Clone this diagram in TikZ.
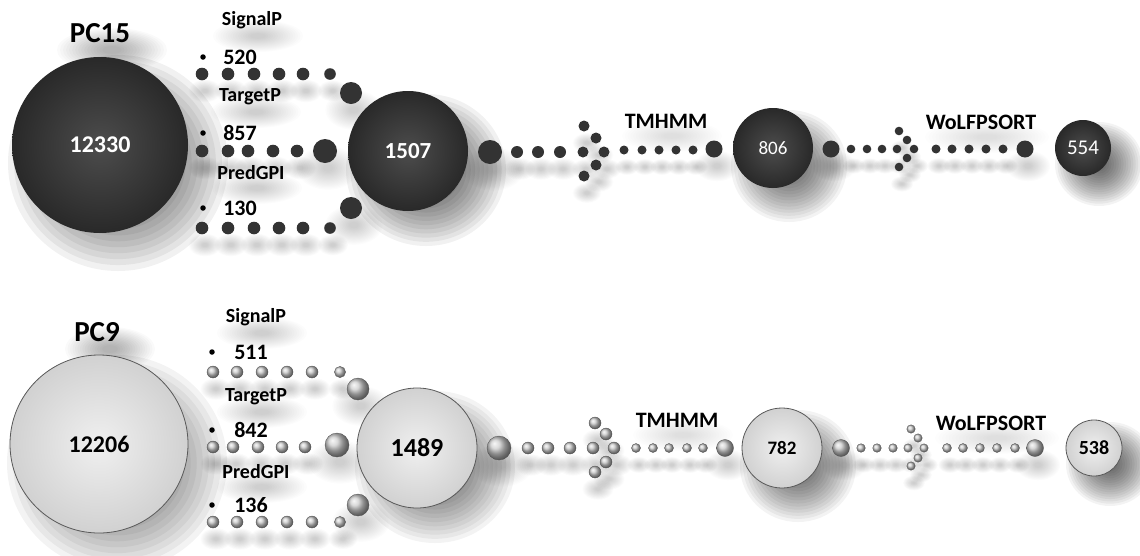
\documentclass[tikz,border=0pt]{standalone}
\usepackage{fontspec}
\setmainfont{Carlito}
\pgfdeclarelayer{back}
\pgfdeclarelayer{shadowlayer}
\pgfsetlayers{back,shadowlayer,main}
\tikzset{
  dkbig/.style={circle, inner sep=0pt, inner color=black!70, outer color=black!84, text=white},
  ltbig/.style={circle, inner sep=0pt, inner color=gray!12, outer color=gray!36, draw=gray!70!black, line width=0.8pt, text=black},
  lbl/.style={inner sep=0pt, font=\bfseries\fontsize{20}{24}\selectfont},
  numlbl/.style={inner sep=0pt, font=\bfseries\fontsize{22}{26}\selectfont},
  toollbl/.style={inner sep=0pt, font=\bfseries\fontsize{22}{26}\selectfont},
  pclbl/.style={inner sep=0pt, font=\bfseries\fontsize{29}{34}\selectfont},
  bulletdot/.style={circle, fill=black, inner sep=0pt, minimum size=5.5pt},
  dkdot/.style={fill=black!80},
  ltdot/.style={ball color=gray!40, draw=gray!60!black, line width=0.3pt},
}
% soft shadow built from stacked translucent ellipses: cx, cy, rx, ry, opacity
\newcommand\sh[5]{\begin{pgfonlayer}{shadowlayer}%
  \pgfmathsetmacro\shop{1-(1-#5)^(0.0625)}%
  \foreach \k in {0,...,15}{\fill[black, fill opacity=\shop] (#1,#2) ellipse [x radius={(#3)*(1-\k*0.055)}, y radius={(#4)*(1-\k*0.055)}];}%
  \end{pgfonlayer}}
\newcommand\dd[3]{\sh{#1+3}{#2+17}{#3*2.6}{#3*1.8}{0.2}\fill[dkdot] (#1,#2) circle[radius=#3];}
\newcommand\ld[3]{\sh{#1+3}{#2+17}{#3*2.6}{#3*1.8}{0.2}\path[ltdot] (#1,#2) circle[radius=#3];}
\begin{document}
\begin{tikzpicture}[x=1pt, y=-1pt]
\begin{pgfonlayer}{back}
\fill[white] (0,0) rectangle (1140,555);
\end{pgfonlayer}
\useasboundingbox (0,0) rectangle (1140,555);

% ================= TOP : PC15 =================
\sh{112}{50}{55}{22}{0.25}
\node[pclbl] (pc15) at (100,33) {PC15};
\sh{118}{163}{110}{108}{0.6}
\node[dkbig, minimum size=176pt, font=\bfseries\fontsize{24}{28}\selectfont] (c1) at (100,145) {12330};

\sh{258}{36}{45}{16}{0.15}
\node[lbl] (sp1) at (252,20) {SignalP};
\node[bulletdot] (b11) at (203,57) {};
\node[numlbl] (n11) at (240,57) {520};
\foreach \x in {202,228,254,279,303} {\dd{\x}{74}{6.3}}
\dd{330}{74}{5.8}
\dd{351}{93}{11}

\sh{256}{112}{45}{16}{0.15}
\node[lbl] (tp1) at (250,97) {TargetP};
\node[bulletdot] (b12) at (203,133) {};
\node[numlbl] (n12) at (240,133) {857};
\foreach \x in {202,228,248,273,297} {\dd{\x}{151}{6.3}}
\dd{325}{151}{12}

\sh{257}{188}{45}{16}{0.15}
\node[lbl] (pg1) at (251,173) {PredGPI};
\node[bulletdot] (b13) at (203,208) {};
\node[numlbl] (n13) at (240,208) {130};
\foreach \x in {202,228,254,279,303} {\dd{\x}{228}{6.3}}
\dd{330}{228}{5.8}
\dd{351}{208}{11}

\sh{426}{170}{80}{76}{0.6}
\node[dkbig, minimum size=120pt, font=\bfseries\fontsize{23}{27}\selectfont] (c2) at (408,151) {1507};

\dd{490}{152}{12}
\foreach \x in {517,538,560} {\dd{\x}{152}{6}}
\dd{584}{126}{5.5} \dd{596}{138}{5.5} \dd{583}{152}{5.5}
\dd{604}{152}{5.5} \dd{596}{165}{5.5} \dd{584}{176}{5.5}
\sh{672}{136}{50}{16}{0.12}
\node[toollbl] (tm1) at (666,121) {TMHMM};
\foreach \x in {624,642,659,676,693} {\dd{\x}{150}{4.5}}
\dd{714}{149}{8.5}

\sh{789}{166}{58}{56}{0.55}
\node[dkbig, minimum size=80pt, font=\fontsize{19}{23}\selectfont] (c3) at (773,148) {806};

\dd{831}{149}{8.5}
\foreach \x in {851,867,882} {\dd{\x}{149}{4.3}}
\dd{899}{131}{4.3} \dd{907}{140}{4.3} \dd{897}{149}{4.3}
\dd{914}{149}{4.3} \dd{907}{158}{4.3} \dd{899}{167}{4.3}
\sh{987}{137}{62}{16}{0.12}
\node[toollbl] (wo1) at (981,122) {WoLFPSORT};
\foreach \x in {936,952,969,986,1003} {\dd{\x}{149}{4.5}}
\dd{1025}{149}{8.5}

\sh{1099}{164}{44}{42}{0.55}
\node[dkbig, minimum size=56pt, font=\fontsize{21}{25}\selectfont] (c4) at (1083,148) {554};

% ================= BOTTOM : PC9 =================
\sh{110}{349}{45}{22}{0.25}
\node[pclbl] (pc9) at (97,332) {PC9};
\sh{117}{463}{110}{108}{0.55}
\node[ltbig, minimum size=178pt, font=\bfseries\fontsize{24}{28}\selectfont] (c5) at (99,444) {12206};

\sh{262}{333}{45}{16}{0.15}
\node[lbl] (sp2) at (256,317) {SignalP};
\node[bulletdot] (b21) at (212,352) {};
\node[numlbl] (n21) at (251,352) {511};
\foreach \x in {213,237,262,287,312} {\ld{\x}{372}{6}}
\ld{340}{372}{5.6}
\ld{358}{389}{11}

\sh{262}{412}{45}{16}{0.15}
\node[lbl] (tp2) at (256,397) {TargetP};
\node[bulletdot] (b22) at (212,430) {};
\node[numlbl] (n22) at (251,430) {842};
\foreach \x in {213,233,258,282,305} {\ld{\x}{447}{6}}
\ld{337}{445}{12}

\sh{262}{487}{45}{16}{0.15}
\node[lbl] (pg2) at (256,472) {PredGPI};
\node[bulletdot] (b23) at (212,505) {};
\node[numlbl] (n23) at (251,505) {136};
\foreach \x in {213,237,262,287,312} {\ld{\x}{522}{6}}
\ld{340}{522}{5.6}
\ld{358}{505}{11}

\sh{435}{467}{80}{76}{0.55}
\node[ltbig, minimum size=120pt, font=\bfseries\fontsize{26}{30}\selectfont] (c6) at (417,448) {1489};

\ld{499}{448}{12}
\foreach \x in {528,548,570} {\ld{\x}{448}{6}}
\ld{595}{423}{6} \ld{606}{434}{6} \ld{593}{448}{6}
\ld{614}{448}{6} \ld{606}{462}{6} \ld{595}{472}{6}
\sh{683}{435}{50}{16}{0.12}
\node[toollbl] (tm2) at (677,420) {TMHMM};
\foreach \x in {636,653,669,687,703} {\ld{\x}{448}{4.5}}
\ld{725}{448}{8.5}

\sh{798}{466}{58}{56}{0.55}
\node[ltbig, minimum size=80pt, font=\bfseries\fontsize{19}{23}\selectfont] (c7) at (782,448) {782};

\ld{841}{448}{8.5}
\foreach \x in {861,877,893} {\ld{\x}{448}{4.3}}
\ld{911}{429}{4.2} \ld{918}{438}{4.2} \ld{908}{448}{4.2}
\ld{924}{448}{4.2} \ld{918}{458}{4.2} \ld{911}{466}{4.2}
\sh{997}{438}{62}{16}{0.12}
\node[toollbl] (wo2) at (991,423) {WoLFPSORT};
\foreach \x in {947,963,980,997,1015} {\ld{\x}{448}{4.5}}
\ld{1035}{448}{8.5}

\sh{1110}{464}{44}{42}{0.55}
\node[ltbig, minimum size=56pt, font=\bfseries\fontsize{20}{24}\selectfont] (c8) at (1094,448) {538};
\end{tikzpicture}
\end{document}
